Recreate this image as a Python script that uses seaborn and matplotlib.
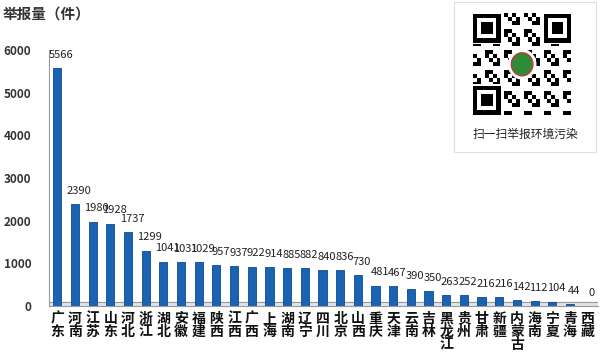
import numpy as np
import pandas as pd
import matplotlib
matplotlib.use('Agg')
import matplotlib.pyplot as plt
import seaborn as sns
from matplotlib.patches import Rectangle, Circle

provinces = ['广东', '河南', '江苏', '山东', '河北', '浙江', '湖北', '安徽', '福建', '陕西',
             '江西', '广西', '上海', '湖南', '辽宁', '四川', '北京', '山西', '重庆', '天津',
             '云南', '吉林', '黑龙江', '贵州', '甘肃', '新疆', '内蒙古', '海南', '宁夏', '青海', '西藏']
reports = [5566, 2390, 1980, 1928, 1737, 1299, 1041, 1031, 1029, 957,
           937, 922, 914, 885, 882, 840, 836, 730, 481, 467,
           390, 350, 263, 252, 216, 216, 142, 112, 104, 44, 0]
y_ticks = [0, 1000, 2000, 3000, 4000, 5000, 6000]

sns.set_style('white')
plt.rcParams['font.family'] = ['Noto Sans CJK SC', 'DejaVu Sans']

df = pd.DataFrame({'省份': provinces, '举报量': reports})

fig = plt.figure(figsize=(6, 3.56), dpi=100)
ax = fig.add_axes([0.082, 0.14, 0.915, 0.72])

sns.barplot(data=df, x='省份', y='举报量', color='#1a62b2', width=0.46,
            edgecolor='#0d4a8c', linewidth=0.6, saturation=1, ax=ax)

# 柱子上的数值
for i, v in enumerate(reports):
    ax.annotate(str(v), (i, v), xytext=(3, 6), textcoords='offset points',
                ha='center', va='bottom', fontsize=8, color='#222222')

# 底部的灰色“地板”
ax.axhspan(0, 90, color='#e4e4e4', zorder=0)
ax.axhline(90, color='#9a9a9a', lw=0.8, zorder=0)

ax.set_ylim(0, 6000)
ax.set_xlim(-0.46, 30.6)
ax.set_yticks(y_ticks)
ax.set_yticklabels([str(t) for t in y_ticks], fontsize=8.5, fontweight='bold', color='#333333')
ax.set_xticks(range(len(provinces)))
ax.set_xticklabels(['\n'.join(p) for p in provinces], fontsize=10, fontweight='bold',
                   linespacing=0.92, va='top', color='#111111')
ax.tick_params(axis='both', length=0, pad=4)
ax.tick_params(axis='y', pad=13)
ax.set_xlabel('')
ax.set_ylabel('')
for s in ['top', 'right']:
    ax.spines[s].set_visible(False)
ax.spines['left'].set_color('#9a9a9a')
ax.spines['bottom'].set_color('#9a9a9a')

fig.text(0.004, 0.962, '举报量（件）', fontsize=10.5, fontweight='bold', color='#333333', va='center')

# 右上角二维码区域（示意）
qr = fig.add_axes([0.755, 0.57, 0.24, 0.43])
qr.set_xlim(0, 1)
qr.set_ylim(0, 1)
qr.axis('off')
qr.add_patch(Rectangle((0.01, 0.01), 0.98, 0.98, fill=False, ec='#dddddd', lw=0.8))
n = 25
ii, jj = np.meshgrid(np.arange(n), np.arange(n))
cells = ((ii * 7 + jj * 13 + ii * jj) % 5 < 2).astype(float)
qr.imshow(1 - cells, cmap='gray', vmin=0, vmax=1, extent=(0.14, 0.82, 0.25, 0.91),
          interpolation='nearest', aspect='auto')
fw, fh = 0.19, 0.19
for (x0, y0) in [(0.14, 0.91 - fh), (0.82 - fw, 0.91 - fh), (0.14, 0.25)]:
    qr.add_patch(Rectangle((x0 - 0.01, y0 - 0.01), fw + 0.02, fh + 0.02, fc='white', ec='none'))
    qr.add_patch(Rectangle((x0, y0), fw, fh, fc='black', ec='none'))
    qr.add_patch(Rectangle((x0 + 0.03, y0 + 0.03), fw - 0.06, fh - 0.06, fc='white', ec='none'))
    qr.add_patch(Rectangle((x0 + 0.055, y0 + 0.055), fw - 0.11, fh - 0.11, fc='black', ec='none'))
qr.add_patch(Circle((0.48, 0.58), 0.1, fc='white', ec='none'))
qr.add_patch(Circle((0.48, 0.58), 0.075, fc='#2e8b3a', ec='#c0392b', lw=1))
qr.text(0.5, 0.12, '扫一扫举报环境污染', ha='center', va='center', fontsize=8.5, color='#222222')

fig.savefig('out.png', dpi=100)
